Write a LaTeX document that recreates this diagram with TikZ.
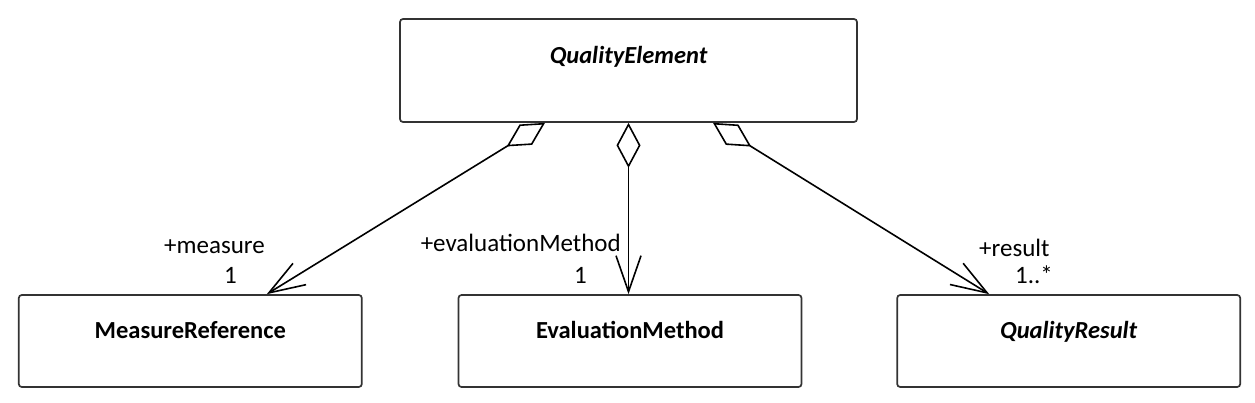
\documentclass[tikz,border=0pt]{standalone}
\usepackage{fontspec}
\setmainfont{Carlito}
\usetikzlibrary{arrows.meta, positioning}

\begin{document}
\begin{tikzpicture}[x=1pt, y=-1pt,
                    classbox/.style={draw=black!80, line width=1.7pt, rounded corners=3pt,
                                     inner sep=0pt, minimum width=343pt, minimum height=92pt,
                                     font=\fontsize{24.5}{28}\selectfont\bfseries,
                                     text height=17pt, text depth=22pt},
                    role/.style={inner sep=0pt, font=\fontsize{25}{30}\selectfont},
                    assoc/.style={line width=1.6pt,
                                  {Diamond[open, fill=white, length=45pt, width=24pt]}-{Straight Barb[length=36pt, width=25pt]}}]
                    \useasboundingbox (0,0) rectangle (1255,402);
                    % classes
                    \node (elem) [classbox, minimum width=457pt, minimum height=103pt,
                                  text depth=32pt] at (628.5,70.5) {\itshape QualityElement};
                    \node (eval) [classbox] at (630,341) {EvaluationMethod};
                    \node (mref) [classbox, left=95pt of eval] {MeasureReference};
                    \node (qres) [classbox, right=94pt of eval] {\itshape QualityResult};
                    % associations
                    \draw [assoc] ([xshift=-83.5pt]elem.south) -- ([xshift=76.5pt]mref.north);
                    \draw [assoc] (elem.south) -- (elem.south |- eval.north);
                    \draw [assoc] ([xshift=84.5pt]elem.south) -- ([xshift=-79.5pt]qres.north);
                    % role names and multiplicities
                    \node (mrefrole) [role, anchor=base east] at (265,253) {+measure};
                    \node (mrefmult) [role, anchor=base east] at (237,283) {1};
                    \node (evalrole) [role, anchor=base east] at (621,251) {+evaluationMethod};
                    \node (evalmult) [role, anchor=base east] at (587,283) {1};
                    \node (qresrole) [role, anchor=base west] at (979,256) {+result};
                    \node (qresmult) [role, anchor=base west] at (1015,283) {1..*};
                \end{tikzpicture}
\end{document}
